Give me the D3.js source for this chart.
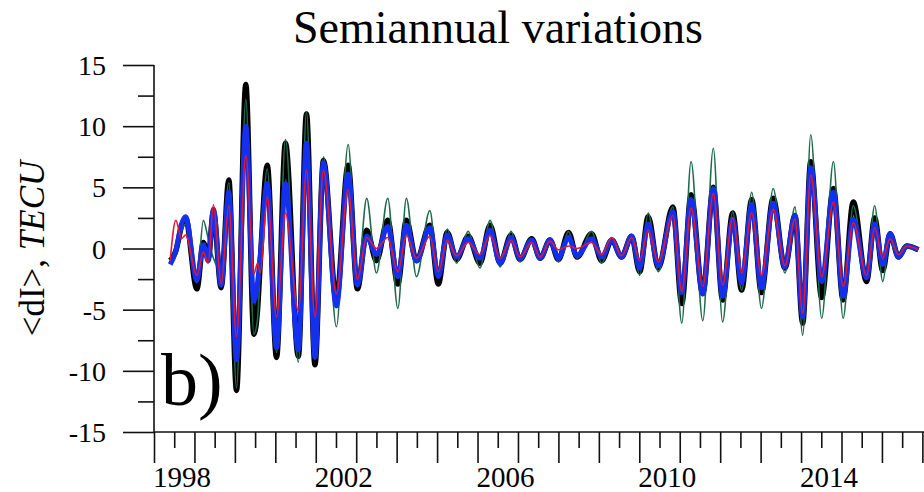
<!DOCTYPE html>
<html>
<head>
<meta charset="utf-8">
<script src="https://cdn.jsdelivr.net/npm/d3@7"></script>
<style>
  body { margin: 0; background: #fff; }
  svg { display: block; font-family: "Liberation Serif", "Times New Roman", serif; }
</style>
</head>
<body>
<div class="chart"></div>
<script>
// turning points of the semiannual component
const years = [
  1998.40, 1998.54, 1998.68, 1998.78, 1999.06, 1999.22, 1999.34, 1999.47, 1999.66, 1999.85,
  2000.04, 2000.27, 2000.47, 2000.56, 2000.63, 2000.80, 2001.03, 2001.25, 2001.57, 2001.77,
  2001.98, 2002.19, 2002.51, 2002.80, 2003.03, 2003.26, 2003.50, 2003.78, 2004.03, 2004.24,
  2004.49, 2004.82, 2005.03, 2005.25, 2005.48, 2005.77, 2006.06, 2006.31, 2006.56, 2006.83,
  2007.05, 2007.34, 2007.55, 2007.79, 2008.00, 2008.25, 2008.46, 2008.82, 2009.07, 2009.32,
  2009.56, 2009.81, 2010.01, 2010.22, 2010.47, 2010.83, 2011.05, 2011.28, 2011.57, 2011.83,
  2012.06, 2012.31, 2012.53, 2012.78, 2013.02, 2013.31, 2013.60, 2013.85, 2014.04, 2014.24,
  2014.51, 2014.80, 2015.04, 2015.29, 2015.62, 2015.82, 2016.02, 2016.20, 2016.41, 2016.61, 2016.90
];

const blackVals = [
  -1.0, -0.2, 1.8, 2.5, -3.3, 0.5, -0.8, 3.0, -3.2, 5.6,
  -11.6, 13.4, -7.0, -5.0, -1.0, 6.8, -8.9, 8.6, -8.8, 11.0,
  -9.5, 7.2, -4.2, 6.8, -3.3, 1.5, -1.0, 2.3, -2.9, 2.3,
  -1.0, 1.9, -2.9, 1.3, -0.9, 1.0, -1.2, 1.9, -1.2, 1.1,
  -0.9, 0.8, -0.8, 0.7, -0.9, 1.3, -0.7, 1.2, -1.0, 0.7,
  -0.7, 1.0, -1.9, 2.6, -1.6, 3.4, -4.5, 4.4, -3.7, 5.0,
  -4.2, 2.9, -3.4, 4.0, -3.6, 4.1, -1.6, 2.7, -6.1, 7.1,
  -4.0, 4.9, -4.2, 3.8, -2.7, 2.5, -1.8, 1.2, -0.7, 0.2, -0.1
];

const greenVals = [
  -1.1, -0.5, 1.4, 2.0, -2.8, 2.3, 0.8, -0.8, -1.8, 5.4,
  -11.4, 12.2, -7.0, -5.8, -1.5, 6.5, -8.5, 8.9, -9.3, 11.2,
  -9.0, 7.5, -6.4, 8.5, -2.6, 4.1, -2.0, 4.1, -4.9, 4.1,
  -2.3, 3.1, -2.3, 1.6, -1.2, 1.4, -1.6, 2.3, -1.5, 1.4,
  -1.1, 0.7, -0.9, 0.8, -1.1, 1.4, -0.8, 1.4, -1.2, 0.6,
  -0.8, 1.0, -2.2, 2.9, -1.9, 3.4, -6.1, 7.1, -5.9, 8.2,
  -6.0, 3.0, -3.4, 4.6, -4.9, 4.9, -2.0, 3.4, -7.1, 9.3,
  -5.7, 7.1, -5.7, 3.5, -2.5, 3.5, -2.7, 1.2, -0.6, 0.2, -0.1
];

const blueVals = [
  -1.3, -0.2, 2.0, 2.6, -2.6, 0.3, -1.0, 3.2, -3.0, 4.6,
  -9.1, 10.0, -4.3, -2.8, -0.5, 5.3, -8.1, 5.3, -8.3, 8.6,
  -8.9, 7.0, -4.7, 6.1, -3.0, 1.0, -0.5, 1.8, -2.3, 1.9,
  -1.0, 1.7, -2.3, 1.1, -0.7, 0.8, -0.8, 1.5, -1.2, 0.9,
  -0.8, 0.7, -0.8, 0.7, -0.8, 0.9, -0.6, 0.8, -0.7, 0.7,
  -0.7, 1.0, -1.6, 2.0, -1.4, 3.0, -3.6, 4.0, -3.7, 4.9,
  -3.9, 2.4, -2.8, 3.6, -3.2, 3.7, -1.5, 2.7, -5.6, 6.6,
  -2.7, 4.6, -3.9, 2.4, -2.4, 2.0, -1.3, 1.2, -0.7, 0.2, -0.1
];

const redVals = [
  -1.0, 2.3, 0.8, 1.1, -2.2, -0.3, -1.2, 3.6, -2.9, 3.5,
  -7.2, 7.6, -2.1, -1.2, -2.0, 4.2, -5.6, 2.9, -5.1, 6.4,
  -5.6, 6.4, -3.7, 4.8, -2.5, 0.9, 0.0, 0.9, -1.9, 1.1,
  -0.8, 1.0, -1.9, 0.7, -0.6, 0.5, -0.5, 1.1, -0.8, 0.7,
  -0.7, 0.5, -0.7, 0.6, -0.1, 0.2, 0.0, 0.5, -0.5, 0.9,
  -0.6, 0.9, -1.0, 1.5, -1.1, 2.7, -3.5, 3.3, -3.1, 4.5,
  -3.0, 2.5, -2.0, 2.9, -2.2, 3.2, -1.4, 2.4, -5.3, 6.0,
  -2.3, 3.8, -3.1, 2.1, -2.2, 1.7, -0.8, 0.8, -0.5, 0.2, -0.1
];

const yTickValues = [-15, -10, -5, 0, 5, 10, 15];
const xLabelYears = [1998, 2002, 2006, 2010, 2014];

var width = 924, height = 492;

var svg = d3.select(".chart")
  .append("svg")
  .attr("width", width)
  .attr("height", height);

var x = d3.scaleLinear().domain([1998, 2017.04]).range([154, 924]);
var y = d3.scaleLinear().domain([-15, 15]).range([432, 65]);

// title
svg.append("text")
  .attr("x", 498)
  .attr("y", 43)
  .attr("text-anchor", "middle")
  .attr("font-size", 46)
  .text("Semiannual variations");

// y axis label
svg.append("text")
  .attr("transform", "translate(44," + y(0) + ") rotate(-90)")
  .attr("text-anchor", "middle")
  .attr("font-size", 35)
  .call(function(t) {
    t.append("tspan").text("<dI>, ");
    t.append("tspan").attr("font-style", "italic").text("TECU");
  });

// series, drawn thick first
var series = [
  { vals: blackVals, color: "#000000", w: 5.5 },
  { vals: greenVals, color: "#1d6b4c", w: 1.6 },
  { vals: blueVals, color: "#1230ee", w: 5 },
  { vals: redVals, color: "#e3192f", w: 1.6 }
];

var line = d3.line()
  .x(function(d) { return x(d[0]); })
  .y(function(d) { return y(d[1]); })
  .curve(d3.curveMonotoneX);

svg.append("clipPath").attr("id", "plot")
  .append("rect").attr("x", 154).attr("y", 0).attr("width", 770).attr("height", 432);

var g = svg.append("g").attr("clip-path", "url(#plot)");
series.forEach(function(s) {
  g.append("path")
    .datum(years.map(function(t, i) { return [t, s.vals[i]]; }))
    .attr("fill", "none")
    .attr("stroke", s.color)
    .attr("stroke-width", s.w)
    .attr("stroke-linejoin", "round")
    .attr("d", line);
});

// y axis ticks: minor then major
var yMinor = d3.range(-12.5, 15, 5);
svg.append("g")
  .attr("transform", "translate(" + x(1998) + ",0)")
  .call(d3.axisLeft(y).tickValues(yMinor).tickSize(16).tickFormat(""))
  .call(function(a) { a.select(".domain").remove(); });

svg.append("g")
  .attr("transform", "translate(" + x(1998) + ",0)")
  .call(d3.axisLeft(y).tickValues(yTickValues).tickSize(31).tickFormat(""))
  .call(function(a) { a.select(".domain").remove(); });

svg.selectAll(".ylab")
  .data(yTickValues)
  .enter()
  .append("text")
  .attr("class", "ylab")
  .attr("x", 106)
  .attr("y", function(d) { return y(d) + 10; })
  .attr("text-anchor", "end")
  .attr("font-size", 28)
  .text(function(d) { return String(d); });

// x axis ticks: minor half years, major years
var xMinor = d3.range(1998.5, 2017, 1);
var xMajor = d3.range(1998, 2018, 1);
svg.append("g")
  .attr("transform", "translate(0," + y(-15) + ")")
  .call(d3.axisBottom(x).tickValues(xMinor).tickSize(16).tickFormat(""))
  .call(function(a) { a.select(".domain").remove(); });

svg.append("g")
  .attr("transform", "translate(0," + y(-15) + ")")
  .call(d3.axisBottom(x).tickValues(xMajor).tickSize(31).tickFormat(""))
  .call(function(a) { a.select(".domain").remove(); });

svg.selectAll(".xlab")
  .data(xLabelYears)
  .enter()
  .append("text")
  .attr("class", "xlab")
  .attr("x", function(d) { return x(d) - 1; })
  .attr("y", 487)
  .attr("text-anchor", "start")
  .attr("font-size", 29)
  .text(function(d) { return String(d); });

// axis lines
svg.append("line")
  .attr("x1", x(1998)).attr("x2", x(1998))
  .attr("y1", y(15)).attr("y2", y(-15));
svg.append("line")
  .attr("x1", x(1998)).attr("x2", 924)
  .attr("y1", y(-15)).attr("y2", y(-15));

svg.selectAll("line").attr("stroke", "#111").attr("stroke-width", 1.6);

// panel letter
svg.append("text")
  .attr("x", 161)
  .attr("y", 405)
  .attr("font-size", 74)
  .text("b)");
</script>
</body>
</html>
